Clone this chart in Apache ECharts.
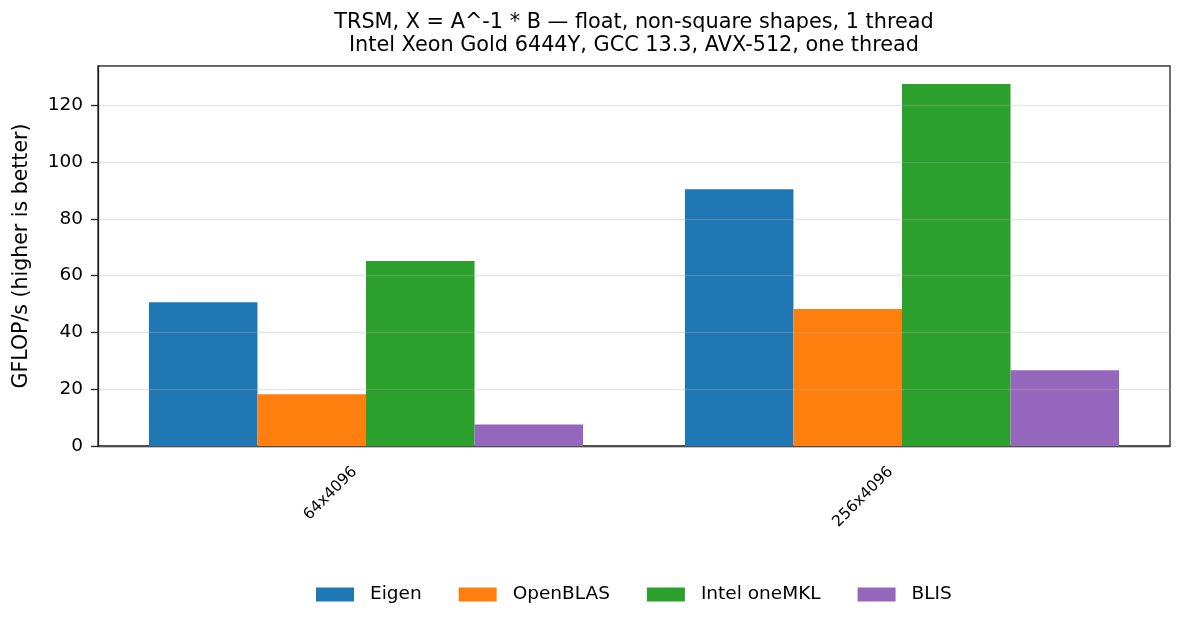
<!DOCTYPE html>
<html>
<head>
<meta charset="utf-8">
<script src="https://cdn.jsdelivr.net/npm/echarts@6/dist/echarts.min.js"></script>
<style>
  html, body { margin: 0; padding: 0; background: #fff; }
  #chart { width: 1185px; height: 626px; }
</style>
</head>
<body>
<div id="chart"></div>
<script>
// shapes on the x axis
const shapes = ['64x4096', '256x4096'];

// GFLOP/s per library
const eigen = [50.6, 90.4];
const openblas = [18.2, 48.2];
const onemkl = [65.1, 127.5];
const blis = [7.6, 26.7];

const yMax = 133.8;
const yStep = 20;

const font = 'DejaVu Sans';
const ink = '#222';

const chart = echarts.init(document.getElementById('chart'), null, { renderer: 'canvas' });

function bars(name, data, color) {
  return {
    name: name,
    type: 'bar',
    data: data,
    barGap: '0%',
    barCategoryGap: '19%',
    itemStyle: { color: color },
    emphasis: { disabled: true },
  };
}

const option = {
  animation: false,
  title: {
    text: 'TRSM, X = A^-1 * B — float, non-square shapes, 1 thread\nIntel Xeon Gold 6444Y, GCC 13.3, AVX-512, one thread',
    // centred over the plot area, not the page
    left: 634,
    textAlign: 'center',
    top: 11,
    padding: 0,
    textStyle: {
      fontFamily: font,
      fontSize: 20.8,
      fontWeight: 'normal',
      color: '#000',
      lineHeight: 23,
    },
  },
  grid: {
    left: 98,
    right: 15,
    top: 66,
    bottom: 180,
    show: true,
    borderColor: ink,
    borderWidth: 1.3,
    backgroundColor: 'transparent',
  },
  legend: {
    bottom: 22,
    left: 316,
    padding: 0,
    itemWidth: 38,
    itemHeight: 14,
    itemGap: 37,
    icon: 'rect',
    textStyle: {
      fontFamily: font,
      fontSize: 18.5,
      color: '#000',
      padding: [0, 0, 0, 11],
    },
  },
  xAxis: {
    type: 'category',
    data: shapes,
    axisLine: { lineStyle: { color: ink, width: 1.3 } },
    axisTick: { alignWithLabel: true, length: 6, lineStyle: { color: ink, width: 1.3 } },
    axisLabel: {
      rotate: 45,
      margin: 12,
      padding: [0, 16, 0, 0],
      fontFamily: font,
      fontSize: 15.5,
      color: '#000',
    },
  },
  yAxis: {
    type: 'value',
    min: 0,
    max: yMax,
    interval: yStep,
    z: 5,
    name: 'GFLOP/s (higher is better)',
    nameLocation: 'middle',
    nameGap: 66,
    nameTextStyle: { fontFamily: font, fontSize: 20.5, color: '#000' },
    axisLine: { show: true, lineStyle: { color: ink, width: 1.3 } },
    axisTick: { show: true, length: 7, lineStyle: { color: ink, width: 1.3 } },
    axisLabel: {
      margin: 15,
      fontFamily: font,
      fontSize: 18.5,
      color: '#000',
      showMaxLabel: false,
    },
    splitLine: { lineStyle: { color: 'rgba(176,176,176,0.3)', width: 1.3 } },
  },
  series: [
    bars('Eigen', eigen, '#1f77b4'),
    bars('OpenBLAS', openblas, '#ff7f0e'),
    bars('Intel oneMKL', onemkl, '#2ca02c'),
    bars('BLIS', blis, '#9467bd'),
  ],
};

chart.setOption(option);
</script>
</body>
</html>
